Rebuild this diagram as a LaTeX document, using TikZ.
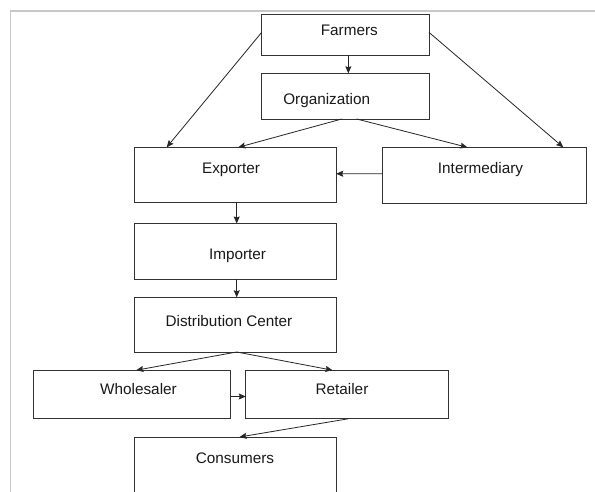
\documentclass[tikz,border=0pt]{standalone}
\usepackage{fontspec}
\setmainfont{Liberation Sans}
\usetikzlibrary{arrows.meta,calc}
\begin{document}
\begin{tikzpicture}[x=1pt,y=-1pt,
  box/.style={draw=black!80,line width=0.9pt,inner sep=0pt,outer sep=0pt},
  txt/.style={anchor=base,inner sep=0pt,font=\fontsize{15.3}{18}\selectfont,text=black!90},
  arr/.style={draw=black!85,line width=0.8pt,-{Stealth[length=7pt,width=6pt,inset=1pt]}}]
\useasboundingbox (0,0) rectangle (595,492);
\clip (0,0) rectangle (595,492);
\fill[white] (0,0) rectangle (595,492);
% frame
\draw[black!22,line width=1.6pt] (10.5,495) -- (10.5,11) -- (600,11);
% boxes
\node[box,minimum width=167.3pt,minimum height=40.7pt] (farm) at (345.35,34.65) {};
\node[box,minimum width=167.3pt,minimum height=45.7pt] (org) at (345.35,96.15) {};
\node[box,minimum width=202.2pt,minimum height=54.7pt] (exp) at (235.1,174.65) {};
\node[box,minimum width=203.1pt,minimum height=56pt] (int) at (484.45,175.3) {};
\node[box,minimum width=202.2pt,minimum height=55.5pt] (imp) at (235.1,251.25) {};
\node[box,minimum width=202.2pt,minimum height=54.7pt] (dist) at (235.1,324.65) {};
\node[box,minimum width=196.8pt,minimum height=48.6pt] (whole) at (132.3,394.5) {};
\node[box,minimum width=202.7pt,minimum height=48.6pt] (ret) at (347.15,394.5) {};
\node[box,minimum width=202.4pt,minimum height=76pt] (cons) at (235.2,475) {};
% texts
\node[txt] (tfarm) at (349.3,36) {Farmers};
\node[txt] (torg) at (326.7,104.5) {Organization};
\node[txt] (texp) at (231,173.3) {Exporter};
\node[txt] (tint) at (480.5,173.3) {Intermediary};
\node[txt] (timp) at (237.5,259) {Importer};
\node[txt] (tdist) at (229,326.7) {Distribution Center};
\node[txt] (twhole) at (138.5,394.3) {Wholesaler};
\node[txt] (tret) at (342,394.7) {Retailer};
\node[txt] (tcons) at (235,463) {Consumers};
% connectors
\draw[arr] ($(farm.south)+(3,0)$) -- ($(org.north)+(3,0)$);
\draw[arr] ($(farm.west)+(0,-2.3)$) -- ($(exp.north west)+(32.7,0)$);
\draw[arr] ($(farm.east)+(0,-2.3)$) -- ($(int.north east)+(-22.7,0)$);
\draw[arr] ($(org.south)+(-3.6,0)$) -- ($(exp.north)+(3.2,0)$);
\draw[arr] ($(org.south)+(11.3,0)$) -- ($(int.north)+(-17.1,0)$);
\draw[arr] ($(int.west)+(0,-1.5)$) -- ($(exp.east)+(0,-0.9)$);
\draw[arr] ($(exp.south)+(1.6,0)$) -- ($(imp.north)+(1.6,0)$);
\draw[arr] ($(imp.south)+(1.6,0)$) -- ($(dist.north)+(1.6,0)$);
\draw[arr] ($(dist.south)+(1.6,0)$) -- ($(whole.north west)+(102.4,0)$);
\draw[arr] ($(dist.south)+(1.6,0)$) -- ($(ret.north west)+(86.7,0)$);
\draw[arr] ($(whole.east)+(0,2)$) -- ($(ret.west)+(0,2)$);
\draw[arr] ($(ret.south)+(1,0)$) -- ($(cons.north)+(4.3,0)$);
\end{tikzpicture}
\end{document}
